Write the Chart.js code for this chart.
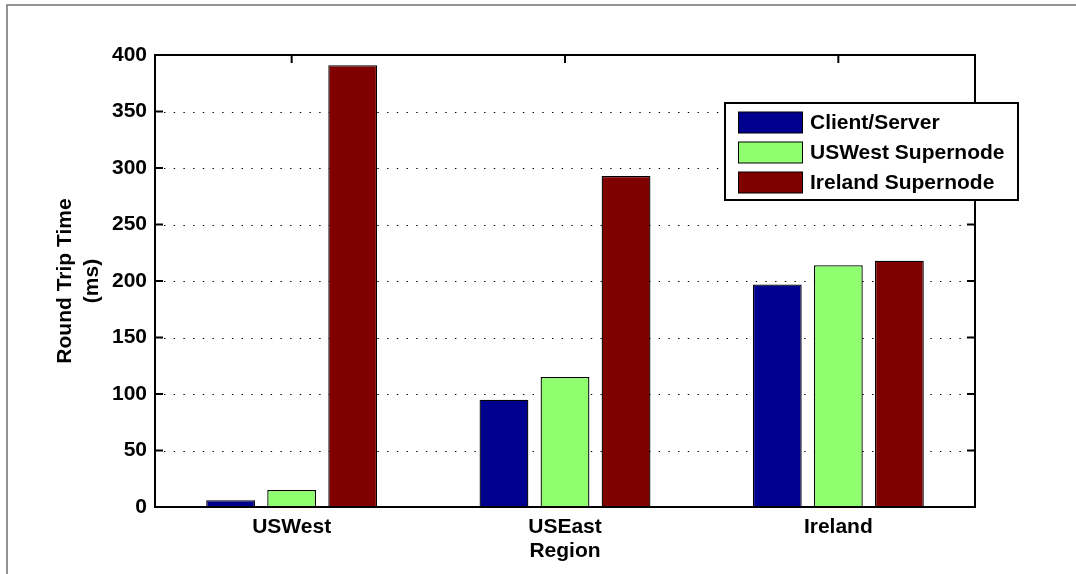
<!DOCTYPE html>
<html>
<head>
<meta charset="utf-8">
<script src="https://cdn.jsdelivr.net/npm/chart.js@4"></script>
<style>
  html, body { margin: 0; padding: 0; background: #fff; }
  #wrap { width: 1076px; height: 574px; }
</style>
</head>
<body>
<div id="wrap"><canvas id="rtt" width="1076" height="574"></canvas></div>
<script>
// Round trip time per client region (ms)
const regions = ['USWest', 'USEast', 'Ireland'];
const clientServer = [6, 95, 197];
const uswestSupernode = [15, 115, 214];
const irelandSupernode = [391, 293, 218];
const seriesNames = ['Client/Server', 'USWest Supernode', 'Ireland Supernode'];
const yTicks = [0, 50, 100, 150, 200, 250, 300, 350, 400];

const colors = ['#00008f', '#8fff70', '#800000'];
const FONT = 'Liberation Sans, Arial, Helvetica, sans-serif';

// Dotted grid, inward tick marks (MATLAB-like axes)
const axesUnder = {
  id: 'axesUnder',
  beforeDatasetsDraw(chart) {
    const { ctx, chartArea: a, scales: { x, y } } = chart;
    ctx.save();
    ctx.strokeStyle = '#000';
    ctx.lineWidth = 1.2;
    ctx.setLineDash([1.4, 8.3]);
    yTicks.forEach(v => {
      if (v === yTicks[0] || v === yTicks[yTicks.length - 1]) return;
      const py = Math.round(y.getPixelForValue(v)) + 0.5;
      ctx.beginPath();
      ctx.moveTo(a.left + 9, py);
      ctx.lineTo(a.right - 9, py);
      ctx.stroke();
    });
    ctx.setLineDash([]);
    ctx.strokeStyle = '#000';
    ctx.lineWidth = 2;
    yTicks.forEach(v => {
      const py = y.getPixelForValue(v);
      ctx.beginPath();
      ctx.moveTo(a.left, py); ctx.lineTo(a.left + 8, py);
      ctx.moveTo(a.right, py); ctx.lineTo(a.right - 8, py);
      ctx.stroke();
    });
    regions.forEach((r, i) => {
      const px = x.getPixelForValue(i);
      ctx.beginPath();
      ctx.moveTo(px, a.top); ctx.lineTo(px, a.top + 8);
      ctx.moveTo(px, a.bottom); ctx.lineTo(px, a.bottom - 8);
      ctx.stroke();
    });
    ctx.restore();
  },
  afterDatasetsDraw(chart) {
    const { ctx, chartArea: a } = chart;
    ctx.save();
    ctx.strokeStyle = '#000';
    ctx.lineWidth = 2;
    ctx.strokeRect(a.left, a.top, a.right - a.left, a.bottom - a.top);
    ctx.restore();
  },
  afterDraw(chart) {
    const { ctx } = chart;
    ctx.save();
    // figure frame
    ctx.strokeStyle = '#707070';
    ctx.lineWidth = 1.5;
    ctx.beginPath();
    ctx.moveTo(1076, 5);
    ctx.lineTo(7, 5);
    ctx.lineTo(7, 574);
    ctx.stroke();

    // legend box
    const lx = 725, ly = 103, lw = 293, lh = 97;
    ctx.fillStyle = '#fff';
    ctx.fillRect(lx, ly, lw, lh);
    ctx.strokeStyle = '#000';
    ctx.lineWidth = 2;
    ctx.strokeRect(lx, ly, lw, lh);
    ctx.font = 'bold 21px ' + FONT;
    ctx.textBaseline = 'middle';
    ctx.textAlign = 'left';
    chart.data.datasets.forEach((ds, i) => {
      const cy = ly + 19.5 + i * 30;
      ctx.fillStyle = ds.backgroundColor;
      ctx.fillRect(738.5, cy - 10.5, 64, 21);
      ctx.strokeStyle = '#000';
      ctx.lineWidth = 1;
      ctx.strokeRect(738.5, cy - 10.5, 64, 21);
      ctx.fillStyle = '#000';
      ctx.fillText(ds.label, 810, cy + 1);
    });
    ctx.restore();
  }
};

const seriesValues = [clientServer, uswestSupernode, irelandSupernode];

new Chart(document.getElementById('rtt'), {
  type: 'bar',
  data: {
    labels: regions,
    datasets: seriesValues.map((vals, i) => ({
      label: seriesNames[i],
      data: vals,
      backgroundColor: colors[i],
      borderColor: '#000',
      borderWidth: 1.3,
      categoryPercentage: 0.67,
      barPercentage: 0.8
    }))
  },
  options: {
    responsive: false,
    animation: false,
    layout: { padding: { top: 55, right: 101, left: 0, bottom: 0 } },
    plugins: { legend: { display: false }, tooltip: { enabled: false } },
    scales: {
      x: {
        grid: { display: false, drawTicks: false },
        border: { display: false },
        ticks: { color: '#000', padding: 8, font: { family: FONT, size: 21, weight: 'bold' } },
        title: {
          display: true, text: 'Region', color: '#000',
          font: { family: FONT, size: 21, weight: 'bold', lineHeight: 1.27 },
          padding: { top: 0, bottom: 9 }
        },
        afterFit(scale) { scale.height = 67; }
      },
      y: {
        min: 0, max: 400,
        afterBuildTicks(scale) { scale.ticks = yTicks.map(v => ({ value: v })); },
        grid: { display: false, drawTicks: false },
        border: { display: false },
        ticks: { color: '#000', padding: 8, font: { family: FONT, size: 21, weight: 'bold' } },
        title: {
          display: true, text: ['Round Trip Time', '(ms)'], color: '#000',
          font: { family: FONT, size: 21, weight: 'bold', lineHeight: 1.27 },
          padding: { top: 52, bottom: 0 }
        },
        afterFit(scale) { scale.width = 155; }
      }
    }
  },
  plugins: [axesUnder]
});
</script>
</body>
</html>
